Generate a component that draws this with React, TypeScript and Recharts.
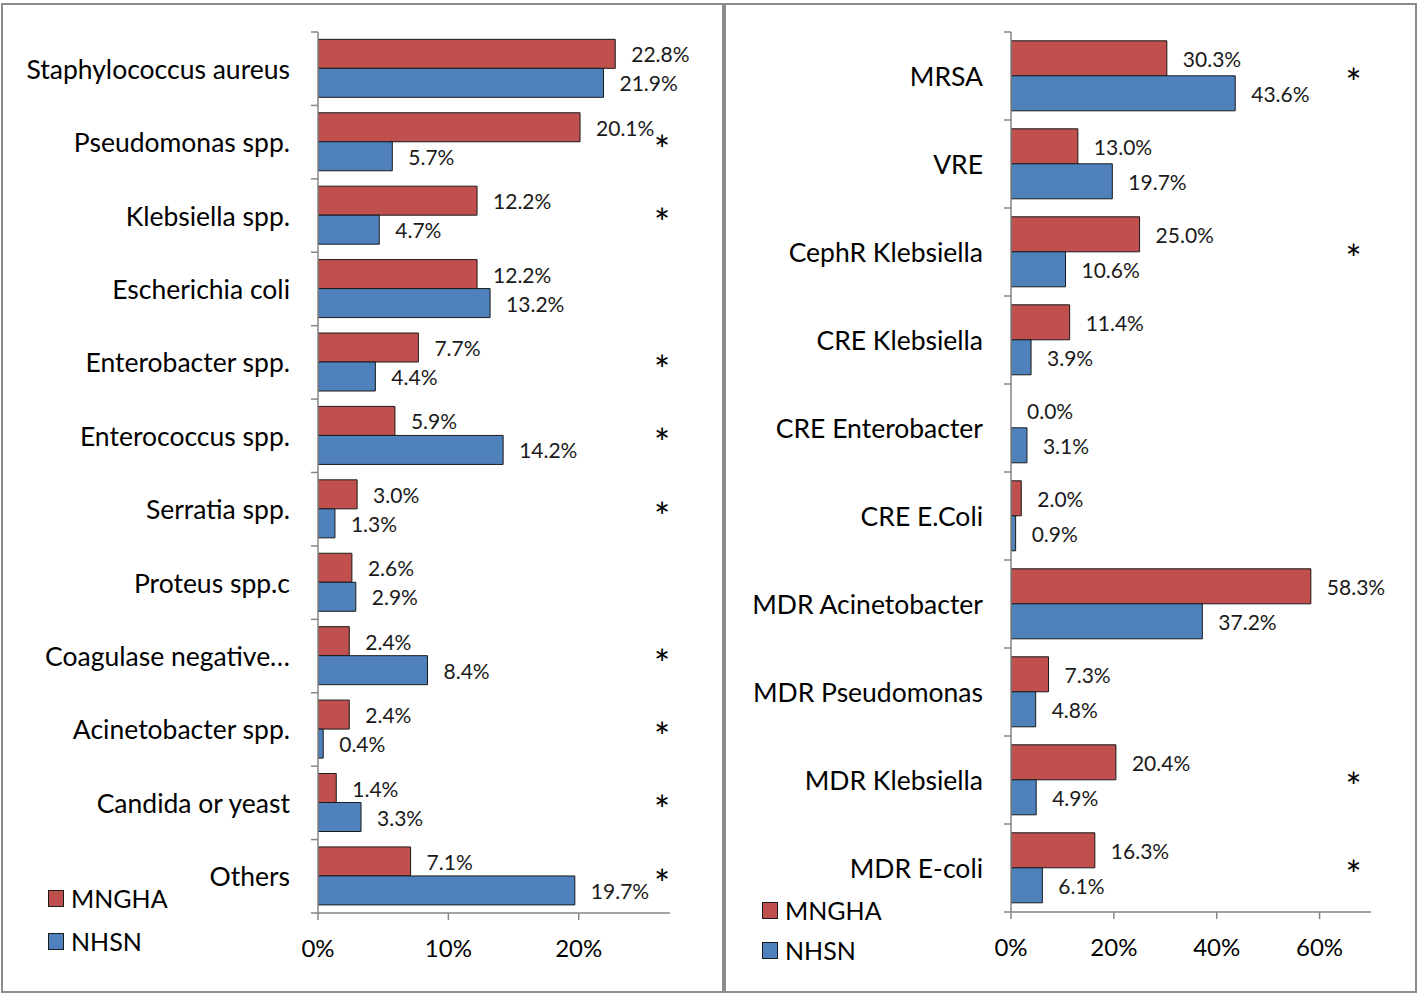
import React from 'react';
import { BarChart, Bar, XAxis, YAxis, LabelList, ReferenceDot } from 'recharts';

const leftCategories = [
  'Staphylococcus aureus',
  'Pseudomonas spp.',
  'Klebsiella spp.',
  'Escherichia coli',
  'Enterobacter spp.',
  'Enterococcus spp.',
  'Serratia spp.',
  'Proteus spp.c',
  'Coagulase negative…',
  'Acinetobacter spp.',
  'Candida or yeast',
  'Others',
];
const leftMNGHA = [22.8, 20.1, 12.2, 12.2, 7.7, 5.9, 3.0, 2.6, 2.4, 2.4, 1.4, 7.1];
const leftNHSN = [21.9, 5.7, 4.7, 13.2, 4.4, 14.2, 1.3, 2.9, 8.4, 0.4, 3.3, 19.7];
const leftSignificant = [false, true, true, false, true, true, true, false, true, true, true, true];
const leftTicks = [0, 10, 20];
const leftMax = 27;
const leftStarAt = 26.4;

const rightCategories = [
  'MRSA',
  'VRE',
  'CephR Klebsiella',
  'CRE Klebsiella',
  'CRE Enterobacter',
  'CRE E.Coli',
  'MDR Acinetobacter',
  'MDR Pseudomonas',
  'MDR Klebsiella',
  'MDR E-coli',
];
const rightMNGHA = [30.3, 13.0, 25.0, 11.4, 0.0, 2.0, 58.3, 7.3, 20.4, 16.3];
const rightNHSN = [43.6, 19.7, 10.6, 3.9, 3.1, 0.9, 37.2, 4.8, 4.9, 6.1];
const rightSignificant = [true, false, true, false, false, false, false, false, true, true];
const rightTicks = [0, 20, 40, 60];
const rightMax = 70;
const rightStarAt = 66.6;

const seriesNames = ['MNGHA', 'NHSN'];
const RED = '#C0504D';
const BLUE = '#4F81BD';
const AXIS = '#868686';
const FONT = 'Lato, "Open Sans", sans-serif';

type PanelProps = {
  categories: string[];
  a: number[];
  b: number[];
  sig: boolean[];
  ticks: number[];
  max: number;
  starAt: number;
  width: number;
  height: number;
  margin: { top: number; right: number; bottom: number; left: number };
  yWidth: number;
  legendLeft: number;
  legendTop: number;
  legendGap: number;
};

const fmt = (v: number) => `${Number(v).toFixed(1)}%`;

const LabelText = ({ x, y, text }: { x: number; y: number; text: string }) => (
  <text x={x} y={y} dominantBaseline="central" fontSize={21} fontFamily={FONT} fill="#1a1a1a">
    {text}
  </text>
);

function Panel(p: PanelProps) {
  const data = p.categories.map((name, i) => ({ name, MNGHA: p.a[i], NHSN: p.b[i] }));
  const xAxisHeight = 40;
  const plotH = p.height - p.margin.top - p.margin.bottom - xAxisHeight;
  const step = plotH / p.categories.length;
  const n = p.categories.length;

  const firstLabel = (props: any) => {
    const { x, y, width, height, value } = props;
    if (!width) return null;
    return <LabelText x={x + width + 16} y={y + height / 2} text={fmt(value)} />;
  };

  // second series label; also draws the first-series label when that bar has zero length
  const secondLabel = (props: any) => {
    const { x, y, width, height, value, index } = props;
    const zeroFirst = p.a[index] === 0;
    return (
      <g>
        <LabelText x={x + width + 16} y={y + height / 2} text={fmt(value)} />
        {zeroFirst && <LabelText x={x + 16} y={y - height / 2} text={fmt(p.a[index])} />}
      </g>
    );
  };

  const yTick = (props: any) => {
    const { x, y, payload, index } = props;
    return (
      <g>
        <text
          x={x - 28}
          y={y}
          textAnchor="end"
          dominantBaseline="central"
          fontSize={26.5}
          fontFamily={FONT}
          fill="#000"
        >
          {payload.value}
        </text>
        <line x1={x - 7} x2={x} y1={y - step / 2} y2={y - step / 2} stroke={AXIS} strokeWidth={1.5} />
        {index === n - 1 && (
          <line x1={x - 7} x2={x} y1={y + step / 2} y2={y + step / 2} stroke={AXIS} strokeWidth={1.5} />
        )}
      </g>
    );
  };

  return (
    <div style={{ position: 'relative', width: p.width, height: p.height }}>
      <BarChart
        width={p.width}
        height={p.height}
        data={data}
        layout="vertical"
        margin={p.margin}
        barCategoryGap="10%"
        barGap={0}
      >
        <XAxis
          type="number"
          domain={[0, p.max]}
          ticks={p.ticks}
          allowDataOverflow
          height={xAxisHeight}
          tickFormatter={(v: number) => `${v}%`}
          axisLine={{ stroke: AXIS, strokeWidth: 1.5 }}
          tickLine={{ stroke: AXIS, strokeWidth: 1.5 }}
          tickSize={7}
          tickMargin={20}
          tick={{ fontSize: 24, fontFamily: FONT, fill: '#000' }}
        />
        <YAxis
          type="category"
          dataKey="name"
          width={p.yWidth}
          axisLine={{ stroke: AXIS, strokeWidth: 1.5 }}
          tickLine={false}
          tickSize={0}
          tickMargin={0}
          interval={0}
          tick={yTick}
        />
        <Bar dataKey="MNGHA" fill={RED} stroke="#1a1a1a" strokeWidth={1} isAnimationActive={false}>
          <LabelList dataKey="MNGHA" content={firstLabel} />
        </Bar>
        <Bar dataKey="NHSN" fill={BLUE} stroke="#1a1a1a" strokeWidth={1} isAnimationActive={false}>
          <LabelList dataKey="NHSN" content={secondLabel} />
        </Bar>
        {p.categories.map((c, i) =>
          p.sig[i] ? (
            <ReferenceDot
              key={c}
              x={p.starAt}
              y={c}
              r={0}
              fill="none"
              stroke="none"
              label={{ value: '*', position: 'center', fontSize: 38, fontFamily: FONT, fill: '#000', dy: 8 }}
            />
          ) : null
        )}
      </BarChart>
      {seriesNames.map((s, i) => (
        <div
          key={s}
          style={{
            position: 'absolute',
            left: p.legendLeft,
            top: p.legendTop + i * p.legendGap,
            display: 'flex',
            alignItems: 'center',
            fontFamily: FONT,
            fontSize: 25,
            color: '#000',
            lineHeight: '26px',
          }}
        >
          <span
            style={{
              display: 'inline-block',
              width: 14,
              height: 15,
              background: i === 0 ? RED : BLUE,
              border: '1px solid #1a1a1a',
              marginRight: 7,
            }}
          />
          {s}
        </div>
      ))}
    </div>
  );
}

export default function App() {
  return (
    <div style={{ position: 'absolute', left: 0, top: 0, width: 1418, height: 995, background: '#fff' }}>
      <div
        style={{
          position: 'absolute',
          left: 1,
          top: 3,
          width: 719,
          height: 986,
          border: '2px solid #8c8c8c',
        }}
      />
      <div
        style={{
          position: 'absolute',
          left: 724,
          top: 3,
          width: 689,
          height: 986,
          border: '2px solid #8c8c8c',
        }}
      />
      <div style={{ position: 'absolute', left: 2, top: 4 }}>
        <Panel
          categories={leftCategories}
          a={leftMNGHA}
          b={leftNHSN}
          sig={leftSignificant}
          ticks={leftTicks}
          max={leftMax}
          starAt={leftStarAt}
          width={720}
          height={987}
          margin={{ top: 28, right: 52, bottom: 38, left: 0 }}
          yWidth={316}
          legendLeft={46}
          legendTop={881}
          legendGap={43}
        />
      </div>
      <div style={{ position: 'absolute', left: 725, top: 4 }}>
        <Panel
          categories={rightCategories}
          a={rightMNGHA}
          b={rightNHSN}
          sig={rightSignificant}
          ticks={rightTicks}
          max={rightMax}
          starAt={rightStarAt}
          width={690}
          height={987}
          margin={{ top: 28, right: 44, bottom: 39, left: 0 }}
          yWidth={286}
          legendLeft={37}
          legendTop={893}
          legendGap={40}
        />
      </div>
    </div>
  );
}
